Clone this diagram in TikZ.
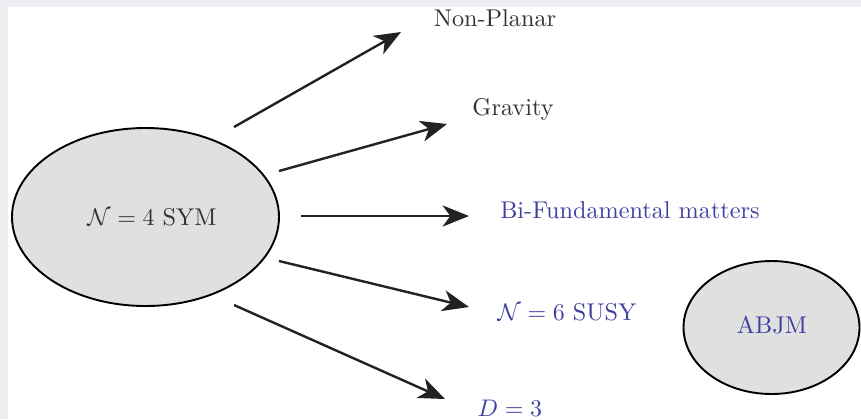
\documentclass[tikz,border=0pt]{standalone}
\usetikzlibrary{arrows.meta}
\definecolor{txtgray}{HTML}{333333}
\definecolor{txtblue}{RGB}{64,64,160}
\definecolor{ellfill}{HTML}{E0E0E0}
\definecolor{framegray}{HTML}{EEEEF2}
\definecolor{arrowc}{HTML}{222222}
\begin{document}
\begin{tikzpicture}[x=0.4167pt,y=-0.4167pt,
  lab/.style={anchor=center,inner sep=0pt,font=\fontsize{10.1}{12}\selectfont},
  arr/.style={draw=arrowc,line width=1pt,-{Stealth[length=11pt,width=8.8pt,inset=3.2pt]}}]
\useasboundingbox (0,0) rectangle (861,419);
\fill[framegray] (0,0) rectangle (861,419);
\fill[white] (8,7) rectangle (861,419);
% ellipses
\draw[line width=0.8pt,fill=ellfill] (145.5,217) ellipse [x radius=133.5, y radius=89];
\draw[line width=0.8pt,fill=ellfill] (771.5,327.5) ellipse [x radius=88, y radius=66.5];
\node[lab,text=txtgray] (sym) at (152,217) {$\mathcal{N}=4$ SYM};
\node[lab,text=txtblue] (abjm) at (772,325) {ABJM};
% labels
\node[lab,text=txtgray] (np) at (495,18) {Non-Planar};
\node[lab,text=txtgray] (gr) at (513,109) {Gravity};
\node[lab,text=txtblue] (bf) at (630,210) {Bi-Fundamental matters};
\node[lab,text=txtblue] (n6) at (567,312) {$\mathcal{N}=6$ SUSY};
\node[lab,text=txtblue] (d3) at (510,408) {$D=3$};
% arrow endpoints
\coordinate (s1) at (234,127); \coordinate (e1) at (401,32);
\coordinate (s2) at (279,171); \coordinate (e2) at (447,124);
\coordinate (s3) at (301,216); \coordinate (e3) at (469,216);
\coordinate (s4) at (279,261); \coordinate (e4) at (469,307);
\coordinate (s5) at (234,305); \coordinate (e5) at (445,399);
\draw[arr] (s1) -- (e1);
\draw[arr] (s2) -- (e2);
\draw[arr] (s3) -- (e3);
\draw[arr] (s4) -- (e4);
\draw[arr] (s5) -- (e5);
\end{tikzpicture}
\end{document}
